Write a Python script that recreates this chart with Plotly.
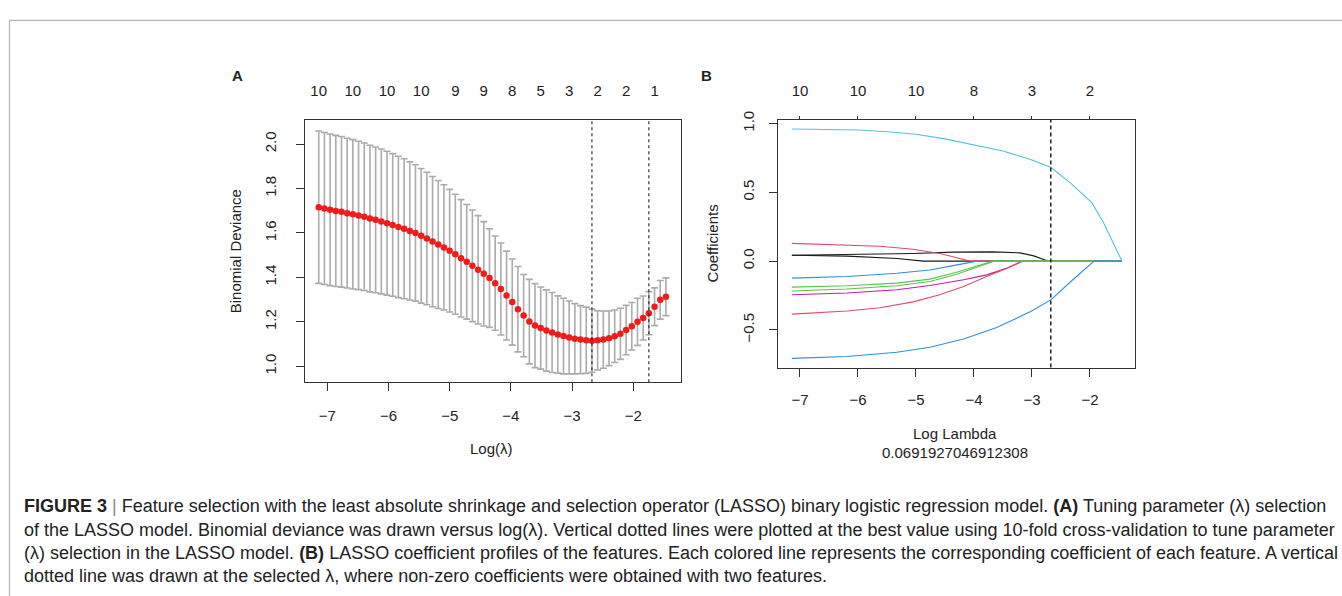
import plotly.graph_objects as go

W, H = 1342, 596

# ---------------- Panel A data (cv.glmnet) ----------------
log_lambda = [-7.140, -7.047, -6.954, -6.861, -6.768, -6.675, -6.582, -6.489, -6.396, -6.303,
              -6.210, -6.117, -6.024, -5.931, -5.838, -5.745, -5.652, -5.559, -5.466, -5.373,
              -5.280, -5.187, -5.094, -5.001, -4.908, -4.815, -4.722, -4.629, -4.536, -4.443,
              -4.350, -4.257, -4.164, -4.071, -3.978, -3.885, -3.792, -3.699, -3.606, -3.513,
              -3.420, -3.327, -3.234, -3.141, -3.048, -2.955, -2.862, -2.769, -2.676, -2.583,
              -2.490, -2.397, -2.304, -2.211, -2.118, -2.025, -1.932, -1.839, -1.746, -1.653,
              -1.560, -1.467]
cv_mean = [1.716, 1.710, 1.704, 1.699, 1.695, 1.689, 1.684, 1.679, 1.673, 1.665,
           1.659, 1.652, 1.644, 1.636, 1.627, 1.619, 1.609, 1.600, 1.587, 1.575,
           1.561, 1.548, 1.535, 1.520, 1.504, 1.486, 1.470, 1.452, 1.434, 1.416,
           1.397, 1.374, 1.348, 1.318, 1.289, 1.257, 1.228, 1.201, 1.183, 1.172,
           1.161, 1.152, 1.143, 1.136, 1.130, 1.124, 1.120, 1.117, 1.115, 1.117,
           1.120, 1.126, 1.135, 1.146, 1.163, 1.180, 1.200, 1.217, 1.239, 1.268,
           1.299, 1.313]
cv_sd = [0.343, 0.342, 0.341, 0.340, 0.339, 0.337, 0.336, 0.334, 0.332, 0.330,
         0.328, 0.326, 0.324, 0.321, 0.318, 0.315, 0.311, 0.307, 0.303, 0.298,
         0.293, 0.288, 0.282, 0.276, 0.270, 0.264, 0.258, 0.251, 0.244, 0.235,
         0.222, 0.212, 0.207, 0.200, 0.194, 0.192, 0.185, 0.190, 0.189, 0.185,
         0.183, 0.180, 0.174, 0.170, 0.164, 0.158, 0.153, 0.149, 0.142, 0.133,
         0.129, 0.123, 0.118, 0.115, 0.111, 0.107, 0.106, 0.099, 0.097, 0.085,
         0.087, 0.085]
cv_top_idx = [0, 6, 12, 18, 24, 29, 34, 39, 44, 49, 54, 59]
cv_top_nz = ["10", "10", "10", "10", "9", "9", "8", "5", "3", "2", "2", "1"]
lambda_min_idx = 48
lambda_1se_idx = 58

# ---------------- Panel B data (coefficient paths) ----------------
path_ticks = [-7, -6, -5, -4, -3, -2]
path_top_nz = ["10", "10", "10", "8", "3", "2"]
selected_log_lambda = -2.676

paths = [
    # (name, color, x, y)
    ("black2", "#1a1a1a",
     [-7.14, -6.19, -5.33, -4.93, -4.87, -1.45],
     [0.043, 0.036, 0.019, 0.002, 0.0, 0.0]),
    ("black1", "#1a1a1a",
     [-7.14, -6.19, -5.05, -4.36, -3.67, -3.21, -2.97, -2.75, -2.69, -1.45],
     [0.043, 0.048, 0.055, 0.065, 0.067, 0.060, 0.038, 0.005, 0.0, 0.0]),
    ("blue_small", "#2f8fe0",
     [-7.14, -6.19, -5.33, -4.76, -4.36, -4.01, -3.95, -1.45],
     [-0.124, -0.112, -0.088, -0.065, -0.033, -0.005, 0.0, 0.0]),
    ("magenta", "#c01ea8",
     [-7.14, -6.19, -5.33, -4.76, -4.18, -3.78, -3.44, -3.15, -1.45],
     [-0.244, -0.232, -0.208, -0.177, -0.136, -0.100, -0.053, 0.0, 0.0]),
    ("red2", "#df4d68",
     [-7.14, -6.19, -5.62, -5.05, -4.59, -4.18, -3.78, -3.44, -3.18, -1.45],
     [-0.385, -0.363, -0.339, -0.296, -0.244, -0.184, -0.112, -0.053, 0.0, 0.0]),
    ("red1", "#df4d68",
     [-7.14, -6.19, -5.62, -5.05, -4.59, -4.36, -4.13, -4.07, -1.45],
     [0.129, 0.119, 0.108, 0.086, 0.055, 0.031, 0.005, 0.0, 0.0]),
    ("green1", "#5cc44a",
     [-7.14, -6.19, -5.33, -4.76, -4.30, -3.90, -3.67, -1.45],
     [-0.189, -0.179, -0.160, -0.131, -0.081, -0.029, 0.0, 0.0]),
    ("green2", "#5cc44a",
     [-7.14, -6.19, -5.33, -4.76, -4.30, -3.90, -3.64, -1.45],
     [-0.217, -0.203, -0.179, -0.148, -0.096, -0.041, 0.0, 0.0]),
    ("cyan", "#4fc3d8",
     [-7.14, -6.5, -6.0, -5.5, -5.0, -4.5, -4.0, -3.5, -3.0, -2.67, -2.33, -2.1, -1.97, -1.77, -1.6, -1.45],
     [0.960, 0.957, 0.952, 0.940, 0.922, 0.888, 0.845, 0.800, 0.735, 0.680, 0.565, 0.480, 0.425, 0.282, 0.138, 0.0]),
    ("blue_big", "#2f8fe0",
     [-7.14, -6.19, -5.33, -4.76, -4.18, -3.61, -3.03, -2.67, -2.33, -2.1, -1.93, -1.45],
     [-0.707, -0.693, -0.662, -0.626, -0.566, -0.483, -0.368, -0.280, -0.148, -0.065, 0.0, 0.0]),
]

caption_lines = [
    "<b>FIGURE 3</b> <span style='color:#888'>|</span> Feature selection with the least absolute shrinkage and selection operator (LASSO) binary logistic regression model. <b>(A)</b> Tuning parameter (λ) selection",
    "of the LASSO model. Binomial deviance was drawn versus log(λ). Vertical dotted lines were plotted at the best value using 10-fold cross-validation to tune parameter",
    "(λ) selection in the LASSO model. <b>(B)</b> LASSO coefficient profiles of the features. Each colored line represents the corresponding coefficient of each feature. A vertical",
    "dotted line was drawn at the selected λ, where non-zero coefficients were obtained with two features.",
]

# ---------------- layout geometry (pixels) ----------------
def px_x(p): return p / W
def px_y(p): return 1 - p / H

A_l, A_r, A_t, A_b = 305, 681, 113, 379
B_l, B_r, B_t, B_b = 778.3, 1135, 112.3, 364
A_xrange = [-7.364, -1.221]
A_yrange = [0.928, 2.107]
B_xrange = [-7.374, -1.224]
B_yrange = [-0.773, 1.028]

FONT = "Liberation Sans, Arial, sans-serif"
TXT = "#222222"

fig = go.Figure()

# Panel A: error bars + red points
fig.add_trace(go.Scatter(
    x=log_lambda, y=cv_mean, mode="markers",
    marker=dict(color="rgba(0,0,0,0)", size=1),
    error_y=dict(type="data", array=cv_sd, visible=True, color="#ababab", thickness=1.6, width=3.5),
    xaxis="x", yaxis="y", showlegend=False, hoverinfo="skip"))
fig.add_trace(go.Scatter(
    x=log_lambda, y=cv_mean, mode="markers",
    marker=dict(color="#f01c1c", size=6.5, line=dict(width=0)),
    xaxis="x", yaxis="y", showlegend=False))

# dummy for top axes
fig.add_trace(go.Scatter(x=[log_lambda[0]], y=[cv_mean[0]], xaxis="x3", yaxis="y",
                         mode="markers", marker=dict(opacity=0), showlegend=False, hoverinfo="skip"))

# Panel B: coefficient paths
for name, color, xs, ys in paths:
    fig.add_trace(go.Scatter(x=xs, y=ys, mode="lines", line=dict(color=color, width=1.1),
                             xaxis="x2", yaxis="y2", showlegend=False, name=name))
fig.add_trace(go.Scatter(x=[path_ticks[0]], y=[0], xaxis="x4", yaxis="y2",
                         mode="markers", marker=dict(opacity=0), showlegend=False, hoverinfo="skip"))

axis_common = dict(showgrid=False, zeroline=False, showline=True, mirror=True,
                   linecolor="#333333", linewidth=1.3, ticks="outside", tickcolor="#333333",
                   tickwidth=1.3, tickfont=dict(family=FONT, size=15, color=TXT))

shapes = []
# figure frame
shapes.append(dict(type="rect", xref="paper", yref="paper",
                   x0=px_x(9.5), x1=px_x(1360), y0=px_y(620), y1=px_y(11.5),
                   line=dict(color="#b4b4b4", width=1.2), fillcolor="rgba(0,0,0,0)"))
# dotted lines A
for idx in (lambda_min_idx, lambda_1se_idx):
    shapes.append(dict(type="line", xref="x", yref="y domain", x0=log_lambda[idx], x1=log_lambda[idx],
                       y0=0, y1=1, line=dict(color="#222", width=1.1, dash="dot")))
# dashed line B
shapes.append(dict(type="line", xref="x2", yref="y2 domain", x0=selected_log_lambda, x1=selected_log_lambda,
                   y0=0, y1=1, line=dict(color="#222", width=1.5, dash="4px,3px")))

annotations = []
def ann(x, y, text, size=15, bold=False, angle=0, xanchor="center"):
    annotations.append(dict(xref="paper", yref="paper", x=px_x(x), y=px_y(y), text=f"<b>{text}</b>" if bold else text,
                            showarrow=False, textangle=angle, xanchor=xanchor, yanchor="middle",
                            font=dict(family=FONT, size=size, color=TXT)))

ann(237, 68, "A", bold=True)
ann(706, 68, "B", bold=True)
ann(235, 246, "Binomial Deviance", angle=-90)
ann(491, 446, "Log(λ)")
ann(712, 238, "Coefficients", angle=-90)
ann(955, 431, "Log Lambda")
ann(955, 450, "0.0691927046912308")

cap_y = [504.5, 528.5, 552, 576]
for y, line in zip(cap_y, caption_lines):
    annotations.append(dict(xref="paper", yref="paper", x=px_x(22), y=px_y(y), text=line,
                            showarrow=False, xanchor="left", yanchor="middle",
                            font=dict(family=FONT, size=18, color=TXT)))

fig.update_layout(
    width=W, height=H, margin=dict(l=0, r=0, t=0, b=0),
    paper_bgcolor="white", plot_bgcolor="white",
    xaxis=dict(domain=[px_x(A_l), px_x(A_r)], range=A_xrange, anchor="y",
               tickvals=[-7, -6, -5, -4, -3, -2], ticklen=8, ticklabelstandoff=12, **axis_common),
    yaxis=dict(domain=[px_y(A_b), px_y(A_t)], range=A_yrange, anchor="x",
               tickvals=[1.0, 1.2, 1.4, 1.6, 1.8, 2.0], tickformat=".1f", tickangle=-90,
               ticklen=8, ticklabelstandoff=14, **axis_common),
    xaxis3=dict(overlaying="x", matches="x", side="top", anchor="y", range=A_xrange,
                tickvals=[log_lambda[i] for i in cv_top_idx], ticktext=cv_top_nz,
                showgrid=False, zeroline=False, showline=False, ticks="", ticklabelstandoff=20,
                tickfont=dict(family=FONT, size=15, color=TXT)),
    xaxis2=dict(domain=[px_x(B_l), px_x(B_r)], range=B_xrange, anchor="y2",
                tickvals=path_ticks, ticklen=8, ticklabelstandoff=10, **axis_common),
    yaxis2=dict(domain=[px_y(B_b), px_y(B_t)], range=B_yrange, anchor="x2",
                tickvals=[-0.5, 0.0, 0.5, 1.0], tickformat=".1f", tickangle=-90,
                ticklen=8, ticklabelstandoff=9, **axis_common),
    xaxis4=dict(overlaying="x2", matches="x2", side="top", anchor="y2", range=B_xrange,
                tickvals=path_ticks, ticktext=path_top_nz,
                showgrid=False, zeroline=False, showline=False, ticks="outside", ticklen=3,
                tickcolor="#333", tickwidth=1.3, ticklabelstandoff=14,
                tickfont=dict(family=FONT, size=15, color=TXT)),
    shapes=shapes, annotations=annotations,
)

fig.write_html("out.html", config={"displayModeBar": False},
               post_script="document.body.style.margin='0px';document.body.style.overflow='hidden';")
